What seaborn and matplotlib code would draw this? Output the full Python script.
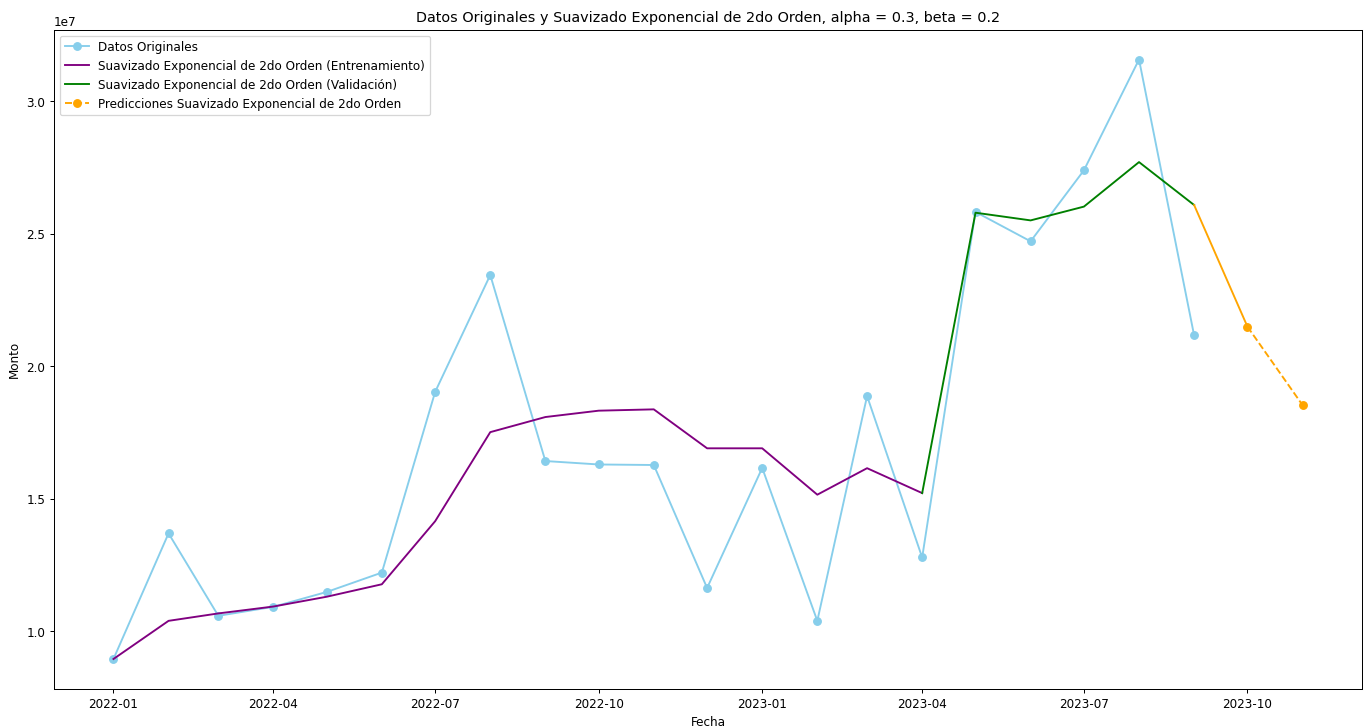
import numpy as np
import pandas as pd
import matplotlib
matplotlib.use("Agg")
import matplotlib.pyplot as plt
import seaborn as sns

# ---- data (values in units of 1e7) ----
orig_dates = pd.date_range("2022-01-01", "2023-09-01", freq="MS")
orig_vals = [0.896, 1.370, 1.059, 1.093, 1.149, 1.222, 1.904, 2.345, 1.643, 1.630,
             1.628, 1.164, 1.617, 1.040, 1.888, 1.279, 2.583, 2.472, 2.740, 3.158, 2.117]

train_dates = pd.date_range("2022-01-01", "2023-04-01", freq="MS")
train_vals = [0.896, 1.040, 1.068, 1.094, 1.131, 1.178, 1.416, 1.752, 1.809, 1.833,
              1.838, 1.691, 1.691, 1.516, 1.616, 1.522]

valid_dates = pd.date_range("2023-04-01", "2023-09-01", freq="MS")
valid_vals = [1.522, 2.580, 2.551, 2.603, 2.771, 2.609]

pred_dates = pd.date_range("2023-10-01", "2023-11-01", freq="MS")
pred_vals = [2.150, 1.854]

SCALE = 1e7

df_orig = pd.DataFrame({"Fecha": orig_dates, "Monto": np.array(orig_vals) * SCALE})
df_train = pd.DataFrame({"Fecha": train_dates, "Monto": np.array(train_vals) * SCALE})
df_valid = pd.DataFrame({"Fecha": valid_dates, "Monto": np.array(valid_vals) * SCALE})
df_pred = pd.DataFrame({"Fecha": pred_dates, "Monto": np.array(pred_vals) * SCALE})
df_conn = pd.DataFrame({"Fecha": [valid_dates[-1], pred_dates[0]],
                        "Monto": [valid_vals[-1] * SCALE, pred_vals[0] * SCALE]})

plt.rcParams["font.size"] = 9.5

fig, ax = plt.subplots(figsize=(15, 8), dpi=1364 / 15)
fig.subplots_adjust(left=54 / 1364, right=1362 / 1364, top=1 - 30 / 727, bottom=1 - 689 / 727)

sns.lineplot(data=df_orig, x="Fecha", y="Monto", ax=ax, color="skyblue", marker="o",
             markeredgecolor="skyblue", markeredgewidth=1, markersize=6,
             label="Datos Originales")
sns.lineplot(data=df_train, x="Fecha", y="Monto", ax=ax, color="purple",
             label="Suavizado Exponencial de 2do Orden (Entrenamiento)")
sns.lineplot(data=df_valid, x="Fecha", y="Monto", ax=ax, color="green",
             label="Suavizado Exponencial de 2do Orden (Validación)")
sns.lineplot(data=df_conn, x="Fecha", y="Monto", ax=ax, color="orange",
             label="_nolegend_")
sns.lineplot(data=df_pred, x="Fecha", y="Monto", ax=ax, color="orange", marker="o",
             linestyle="--", markeredgecolor="orange", markeredgewidth=1, markersize=6,
             label="Predicciones Suavizado Exponencial de 2do Orden")

ax.set_title("Datos Originales y Suavizado Exponencial de 2do Orden, alpha = 0.3, beta = 0.2")
ax.set_xlabel("Fecha")
ax.set_ylabel("Monto")
ax.legend(loc="upper left")

fig.savefig("out.png")
